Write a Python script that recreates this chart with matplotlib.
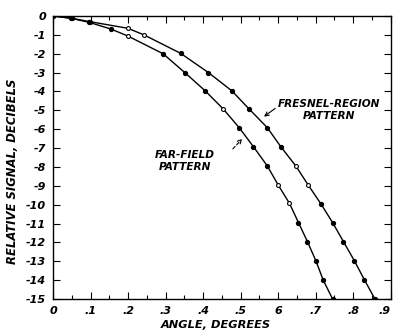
import numpy as np
import matplotlib
matplotlib.use("Agg")
import matplotlib.pyplot as plt

# far-field pattern (inner curve)
far_x = [0.0, 0.047, 0.095, 0.154, 0.199, 0.293, 0.351, 0.405, 0.454, 0.496,
         0.534, 0.571, 0.600, 0.630, 0.654, 0.678, 0.701, 0.720, 0.745]
far_y = [0.0, -0.12, -0.33, -0.69, -1.06, -2.0, -3.0, -3.96, -4.94, -5.92,
         -6.93, -7.95, -8.96, -9.93, -10.95, -11.96, -13.0, -14.0, -15.0]
far_open = [0, 0, 0, 0, 1, 0, 0, 0, 1, 0, 0, 0, 1, 1, 0, 0, 0, 0, 0]

# fresnel-region pattern (outer curve)
fre_x = [0.0, 0.049, 0.098, 0.199, 0.242, 0.340, 0.414, 0.476, 0.523, 0.571,
         0.607, 0.647, 0.680, 0.714, 0.745, 0.774, 0.803, 0.830, 0.858]
fre_y = [0.0, -0.12, -0.30, -0.65, -1.0, -1.98, -3.0, -3.96, -4.94, -5.92,
         -6.93, -7.95, -8.96, -9.96, -10.95, -11.96, -12.97, -13.99, -15.0]
fre_open = [0, 0, 0, 1, 1, 0, 0, 0, 0, 0, 0, 1, 1, 0, 0, 0, 0, 0, 0]

x_ticks = [0, 0.1, 0.2, 0.3, 0.4, 0.5, 0.6, 0.7, 0.8, 0.9]
x_labels = ["0", ".1", ".2", ".3", ".4", ".5", "6", ".7", ".8", ".9"]
y_ticks = list(range(0, -16, -1))
y_labels = ["0"] + ["-%d" % (-v) for v in y_ticks[1:]]

plt.rcParams['font.family'] = ['DejaVu Sans']
plt.rcParams['font.style'] = 'italic'
plt.rcParams['font.weight'] = 'bold'
plt.rcParams['axes.labelweight'] = 'bold'

fig = plt.figure(figsize=(3.93, 3.33), dpi=100)
ax = fig.add_axes([0.1354, 0.1021, 0.8588, 0.8498])

for xs, ys, op in [(far_x, far_y, far_open), (fre_x, fre_y, fre_open)]:
    xs = np.array(xs)
    ys = np.array(ys)
    op = np.array(op, dtype=bool)
    ax.plot(xs, ys, color='black', lw=1.0)
    ax.plot(xs[~op], ys[~op], 'o', ms=2.8, color='black')
    ax.plot(xs[op], ys[op], 'o', ms=2.8, mfc='white', mec='black', mew=0.8)

ax.set_xlim(0, 0.9)
ax.set_ylim(-15, 0)
ax.set_xticks(x_ticks)
ax.set_xticklabels(x_labels)
ax.set_xticks(np.arange(0.05, 0.9, 0.1), minor=True)
ax.set_yticks(y_ticks)
ax.set_yticklabels(y_labels)
ax.tick_params(which='both', direction='in', top=True, right=True,
               labelsize=8, width=0.8)
ax.tick_params(which='major', length=5, pad=5)
ax.tick_params(which='minor', length=3)
ax.get_xticklabels()[-1].set_horizontalalignment('right')
for s in ax.spines.values():
    s.set_linewidth(1.0)

ax.set_xlabel("ANGLE, DEGREES", fontsize=8.2)
ax.xaxis.set_label_coords(0.482, -0.075)
ax.set_ylabel("RELATIVE SIGNAL, DECIBELS", fontsize=8.4)
ax.yaxis.set_label_coords(-0.1, 0.45)

ax.text(0.734, -4.98, "FRESNEL-REGION\nPATTERN", fontsize=7.6, ha='center',
        va='center', linespacing=1.25)
ax.annotate("", xy=(0.556, -5.42), xytext=(0.598, -4.81),
            arrowprops=dict(arrowstyle='->', color='black', lw=0.8,
                            mutation_scale=7))
ax.text(0.351, -7.66, "FAR-FIELD\nPATTERN", fontsize=7.6, ha='center',
        va='center', linespacing=1.25)
ax.annotate("", xy=(0.509, -6.4), xytext=(0.474, -7.15),
            arrowprops=dict(arrowstyle='->', color='black', lw=0.8,
                            mutation_scale=7, linestyle=(0, (3, 2))))

fig.savefig("out.png", dpi=100)
